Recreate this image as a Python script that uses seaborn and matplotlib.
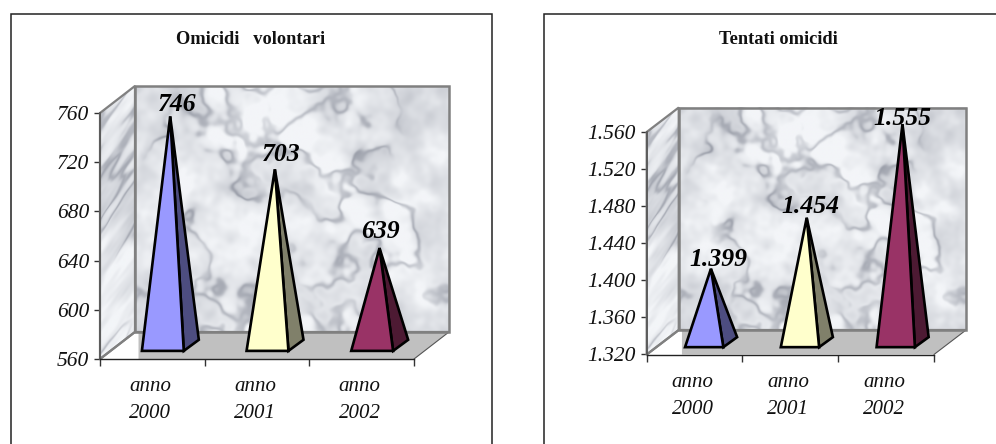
import numpy as np
import pandas as pd
import matplotlib
matplotlib.use("Agg")
import matplotlib.pyplot as plt
import seaborn as sns
from matplotlib.patches import Polygon, Rectangle
from matplotlib.ticker import FuncFormatter, MultipleLocator

# ----------------------------
# dati
# ----------------------------
ANNI = ["anno\n2000", "anno\n2001", "anno\n2002"]
OMICIDI = [746, 703, 639]
TENTATI = [1399, 1454, 1555]

COL_FRONTE = ["#9999FF", "#FFFFCC", "#993366"]
COL_LATO = ["#4D4D80", "#80806A", "#4D1A33"]

W, H = 996, 444
DEPTH_X, DEPTH_Y = 0.1115, 0.11   # profondita' del box in frazione di assi

sns.set_theme(style="white")
plt.rcParams["font.family"] = ["Liberation Serif", "DejaVu Serif"]
plt.rcParams["font.style"] = "italic"


# ----------------------------
# texture marmo (solo sfondo)
# ----------------------------
def smooth_noise(rng, shape, sx, sy, angle=0.0):
    fy = np.fft.fftfreq(shape[0])[:, None]
    fx = np.fft.fftfreq(shape[1])[None, :]
    u = fx * np.cos(angle) + fy * np.sin(angle)
    v = -fx * np.sin(angle) + fy * np.cos(angle)
    kernel = np.exp(-2 * np.pi**2 * ((u * sx) ** 2 + (v * sy) ** 2))
    out = np.fft.ifft2(np.fft.fft2(rng.normal(size=shape)) * kernel).real
    return out / out.std()


def marble(seed, shape, angle=0.0, stretch=1.0):
    rng = np.random.default_rng(seed)
    fine = smooth_noise(rng, shape, 3 * stretch, 3 / stretch, angle)
    mid = smooth_noise(rng, shape, 7 * stretch, 7 / stretch, angle)
    cloud = 0.5 * smooth_noise(rng, shape, 18 * stretch, 18 / stretch, angle) + 0.35 * mid + 0.2 * fine
    band = smooth_noise(rng, shape, 16 * stretch, 16 / stretch, angle) + 0.45 * mid + 0.15 * fine
    patch = smooth_noise(rng, shape, 30 * stretch, 30 / stretch, angle)
    ridge = np.exp(-(band / 0.3) ** 2) * np.clip(0.4 + 0.55 * patch + 0.3 * mid, 0, 1)
    dark = np.clip(0.12 + 0.12 * cloud + 0.36 * ridge, 0, 1)
    base = np.array([243, 245, 248]) / 255
    tint = np.array([105, 110, 125]) / 255
    img = base[None, None, :] + dark[..., None] * (tint - base)[None, None, :]
    return np.clip(img, 0, 1)


BACK_TEX = marble(11, (250, 320))
SIDE_TEX = marble(5, (270, 40), angle=0.9, stretch=2.2)


# ----------------------------
# un pannello
# ----------------------------
def draw_panel(fig, box, title, title_x, values, ymin, ymax, step, fmt, label_off):
    left, right, top, bottom = box
    ax = fig.add_axes([left / W, 1 - bottom / H, (right - left) / W, (bottom - top) / H])
    ax.patch.set_visible(False)

    df = pd.DataFrame({"anno": ANNI, "valore": values})
    sns.barplot(data=df, x="anno", y="valore", ax=ax, width=0.4, color="white", legend=False)
    ax.set_xlim(-0.5, 2.5)
    ax.set_ylim(ymin, ymax)
    ax.set_xlabel("")
    ax.set_ylabel("")

    dx = DEPTH_X * 3
    dy = DEPTH_Y * (ymax - ymin)
    x0, x1 = -0.5, 2.5

    # pareti
    ax.imshow(BACK_TEX, extent=[x0 + dx, x1 + dx, ymin + dy, ymax + dy], aspect="auto",
              origin="lower", zorder=0, clip_on=False, interpolation="bilinear")
    side = ax.imshow(SIDE_TEX, extent=[x0, x0 + dx, ymin, ymax + dy], aspect="auto",
                     origin="lower", zorder=0, interpolation="bilinear")
    side_poly = Polygon([(x0, ymin), (x0 + dx, ymin + dy), (x0 + dx, ymax + dy), (x0, ymax)],
                        fc="none", ec="#808080", lw=1.6, zorder=1, clip_on=False)
    ax.add_patch(side_poly)
    side.set_clip_box(fig.bbox)
    side.set_clip_path(side_poly)
    ax.add_patch(Rectangle((x0 + dx, ymin + dy), x1 - x0, ymax - ymin, fc="none", ec="#808080",
                           lw=1.8, zorder=1.5, clip_on=False))
    # pavimento
    ax.add_patch(Polygon([(x0 + dx * 1.1, ymin), (x1, ymin), (x1 + dx, ymin + dy), (x0 + dx * 1.1, ymin + dy)],
                         fc="#C0C0C0", ec="none", zorder=1.2, clip_on=False))
    ax.plot([x0, x0 + dx], [ymin, ymin + dy], color="#808080", lw=1.6, zorder=1.3, clip_on=False)
    ax.plot([x0 + dx, x1 + dx], [ymin + dy, ymin + dy], color="#808080", lw=1.6, zorder=1.3, clip_on=False)
    ax.plot([x1, x1 + dx], [ymin, ymin + dy], color="#555555", lw=0.8, zorder=1.3, clip_on=False)

    # piramidi, dalla geometria delle barre di seaborn
    for i, bar in enumerate(list(ax.patches)[:3]):
        bar.set_visible(False)
        xa = bar.get_x() + 0.3 * dx
        xb = xa + bar.get_width()
        yb = ymin + 0.3 * dy
        xc = xb + 0.43 * dx
        yc = yb + 0.41 * dy
        xt = bar.get_x() + bar.get_width() / 2 + 0.51 * dx
        yt = bar.get_height() + 0.51 * dy
        ax.add_patch(Polygon([(xb, yb), (xc, yc), (xt, yt)], fc=COL_LATO[i], ec="black",
                             lw=1.9, joinstyle="miter", zorder=3, clip_on=False))
        ax.add_patch(Polygon([(xa, yb), (xb, yb), (xt, yt)], fc=COL_FRONTE[i], ec="black",
                             lw=1.9, joinstyle="miter", zorder=4, clip_on=False))
        ax.annotate(fmt(values[i]), (xt, yt), xytext=label_off[i], textcoords="offset pixels",
                    ha="center", va="baseline", fontsize=18.5, fontweight="bold",
                    color="black", zorder=5, annotation_clip=False)

    # assi
    sns.despine(ax=ax, top=True, right=True)
    ax.spines["left"].set_color("#555555")
    ax.spines["left"].set_linewidth(1.2)
    ax.spines["bottom"].set_color("#222222")
    ax.spines["bottom"].set_linewidth(1.0)
    ax.spines["bottom"].set_zorder(6)
    ax.yaxis.set_major_locator(MultipleLocator(step))
    ax.yaxis.set_major_formatter(FuncFormatter(lambda v, _: fmt(int(round(v)))))
    ax.tick_params(axis="y", length=4, width=1, color="#333333", left=True, pad=4,
                   labelsize=15.5, labelcolor="#111111")

    ax.set_xticks([-0.5, 0.5, 1.5, 2.5])
    ax.set_xticklabels([])
    ax.set_xticks([-0.02, 0.98, 1.98], ANNI, minor=True)
    ax.tick_params(axis="x", which="major", length=5, width=1, color="#333333", bottom=True)
    ax.tick_params(axis="x", which="minor", length=0, pad=13, labelsize=15, labelcolor="#111111")
    for t in ax.get_xticklabels(minor=True):
        t.set_linespacing(1.6)

    fig.text(title_x / W, 1 - 39 / H, title, ha="center", va="center", fontsize=13.2,
             fontweight="bold", fontstyle="normal", color="#111111")
    return ax


def fmt_plain(v):
    return str(v)


def fmt_migliaia(v):
    return f"{v:,}".replace(",", ".")


fig = plt.figure(figsize=(W / 100, H / 100), dpi=100, facecolor="white")

# cornici aperte in basso
fig.add_artist(Rectangle((11 / W, -0.2), 481 / W, 1.2 - 14 / H, transform=fig.transFigure,
                         fc="none", ec="#222222", lw=1.1))
fig.add_artist(Rectangle((544 / W, -0.2), 600 / W, 1.2 - 14 / H, transform=fig.transFigure,
                         fc="none", ec="#222222", lw=1.1))

draw_panel(fig, (100, 414, 113, 359), "Omicidi   volontari", 251, OMICIDI, 560, 760, 40,
           fmt_plain, [(7, 5), (6, 8), (1, 10)])
draw_panel(fig, (646.7, 934, 132, 354.5), "Tentati omicidi", 778, TENTATI, 1320, 1560, 40,
           fmt_migliaia, [(7, 3), (4, 5), (0, -1)])

plt.savefig("out.png", dpi=100)
